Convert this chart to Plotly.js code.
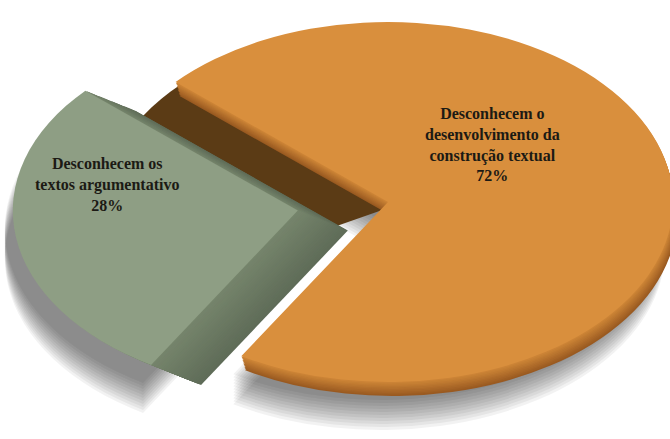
<!DOCTYPE html>
<html>
<head>
<meta charset="utf-8">
<script src="https://cdn.plot.ly/plotly-3.0.1.min.js"></script>
<style>
html,body{margin:0;padding:0;overflow:hidden;background:#ffffff;width:670px;height:439px}
</style>
</head>
<body>
<div id="chart" style="width:1600px;height:1600px"></div>
<script>
// ---- data ----
const categories = ['Desconhecem os textos argumentativo', 'Desconhecem o desenvolvimento da construção textual'];
const values = [28, 72];
const labelLines = [
  ['Desconhecem os', 'textos argumentativo'],
  ['Desconhecem o', 'desenvolvimento da', 'construção textual']
];

// ---- styling ----
const topColors = ['#8e9e84', '#d98f3d'];
const innerColor = '#5b3b15';
const greenSideRamp = ['#76856c', '#5f6c58'];
const orangeSideRamp = ['#d08838', '#9a5a21'];

const W0 = 1600, H0 = 1600, R0 = 500, CX0 = 800, CY0 = 800;
const A = 285, B = 180, CX = 388, CY = 202;     // final ellipse on screen
const sx = A / R0, sy = B / R0;
const PULL = 0.32, ROT = 211;

function mix(c1, c2, t) {
  const p = c => [1,3,5].map(i => parseInt(c.substr(i,2),16));
  const a = p(c1), b = p(c2);
  return 'rgb(' + a.map((v,i) => Math.round(v + (b[i]-v)*t)).join(',') + ')';
}

function layer(colors, offX, offY, pullArr, rot) {
  const mp = Math.max.apply(null, pullArr);
  const box = R0 * (2 + 2 * mp);
  const cx = CX0 + offX / sx;
  const cy = CY0 + offY / sy;
  return {
    type: 'pie', values: values, labels: categories, sort: false,
    direction: 'clockwise', rotation: rot === undefined ? ROT : rot, pull: pullArr,
    marker: {colors: colors, line: {width: 0}},
    textinfo: 'none', hoverinfo: 'skip', showlegend: false,
    domain: {x: [(cx - box/2)/W0, (cx + box/2)/W0],
             y: [1 - (cy + box/2)/H0, 1 - (cy - box/2)/H0]}
  };
}

const traces = [];
const pulls = [PULL, 0];
const clear = 'rgba(0,0,0,0)';
// soft shadow
for (let off = 18; off <= 50; off += 3) {
  traces.push(layer(['rgba(0,0,0,0.05)', 'rgba(0,0,0,0.05)'], -8, off, pulls));
}
// inner radial face of the large slice, seen through the upper gap
traces.push(layer([innerColor, clear], 0, 6, [0, 0], ROT + 30));
// orange thickness
const oDepth = 14, oN = 10;
for (let i = oN; i >= 1; i--) {
  traces.push(layer([clear, mix(orangeSideRamp[0], orangeSideRamp[1], i/oN)], 4*i/oN, oDepth*i/oN, pulls));
}
// green thickness (seen from its right side)
const gDX = 50, gDY = 20, gN = 28;
for (let i = gN; i >= 1; i--) {
  traces.push(layer([mix(greenSideRamp[0], greenSideRamp[1], i/gN), clear], gDX*i/gN, gDY*i/gN, pulls));
}
// top faces
traces.push(layer([clear, topColors[1]], 0, 0, pulls));
traces.push(layer([topColors[0], clear], 0, 0, pulls));

const total = values.reduce((a,b)=>a+b,0);
const labelPos = [[107, 184], [492, 145]];
const annotations = values.map((v, i) => ({
  x: labelPos[i][0] / W0, y: 1 - labelPos[i][1] / H0, xref: 'paper', yref: 'paper',
  xanchor: 'center', yanchor: 'middle', showarrow: false, align: 'center',
  text: labelLines[i].join('<br>') + '<br>' + Math.round(v / total * 100) + '%',
  font: {family: '"Liberation Serif", "DejaVu Serif", serif', size: 16, color: '#1c1a14', weight: 'bold'}
}));

const layout = {
  width: W0, height: H0, margin: {l:0, r:0, t:0, b:0},
  paper_bgcolor: '#ffffff', plot_bgcolor: '#ffffff',
  showlegend: false, annotations: annotations
};

Plotly.newPlot('chart', traces, layout, {staticPlot: true, displayModeBar: false}).then(gd => {
  const g = gd.querySelector('.pielayer');
  if (g) g.setAttribute('transform',
    'translate(' + CX + ',' + CY + ') scale(' + sx + ',' + sy + ') translate(' + (-CX0) + ',' + (-CY0) + ')');
});
</script>
</body>
</html>
